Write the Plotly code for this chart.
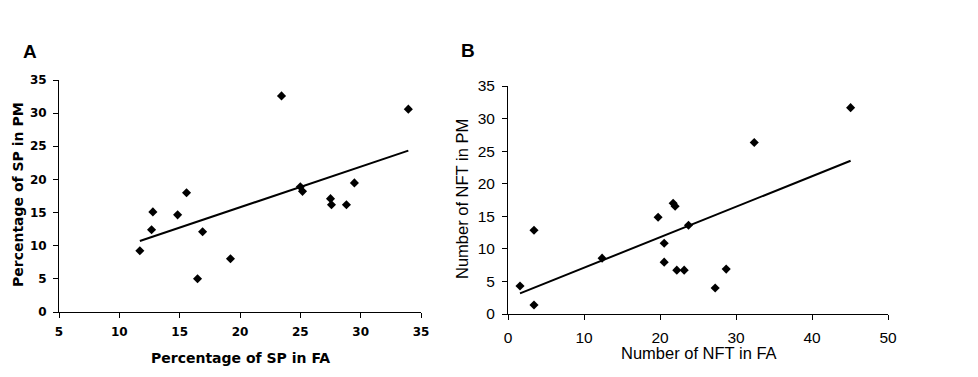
import plotly.graph_objects as go

# Panel A: Percentage of SP
sp_fa = [11.7, 12.67, 12.78, 14.83, 15.57, 16.48, 16.9, 19.21, 23.44, 25.0, 25.18, 27.5, 27.58, 28.82, 29.48, 33.95]
sp_pm = [9.24, 12.4, 15.1, 14.66, 17.98, 5.02, 12.1, 8.03, 32.6, 18.9, 18.2, 17.1, 16.17, 16.17, 19.48, 30.6]
trend_a_x = [11.7, 33.95]
trend_a_y = [10.7, 24.35]

# Panel B: Number of NFT
nft_fa = [1.58, 3.42, 3.42, 12.38, 19.75, 20.55, 20.55, 21.73, 21.99, 22.21, 23.18, 23.75, 27.26, 28.71, 32.4, 45.08]
nft_pm = [4.29, 12.86, 1.38, 8.57, 14.85, 10.87, 7.96, 16.99, 16.53, 6.73, 6.73, 13.62, 3.98, 6.89, 26.33, 31.68]
trend_b_x = [1.58, 45.08]
trend_b_y = [3.16, 23.52]

# The page body has an 8px default margin; figure is sized to fit inside it.
OFF = 8
W, H = 978 - 2 * OFF, 377 - 2 * OFF
FONT_A = "DejaVu Sans, sans-serif"
FONT_B = "Liberation Sans, Arial, sans-serif"

fig = go.Figure()
mk = dict(symbol="diamond", size=7, color="black")
fig.add_trace(go.Scatter(x=sp_fa, y=sp_pm, mode="markers", marker=mk, xaxis="x", yaxis="y", showlegend=False))
fig.add_trace(go.Scatter(x=trend_a_x, y=trend_a_y, mode="lines", line=dict(color="black", width=2), xaxis="x", yaxis="y", showlegend=False))
fig.add_trace(go.Scatter(x=nft_fa, y=nft_pm, mode="markers", marker=mk, xaxis="x2", yaxis="y2", showlegend=False))
fig.add_trace(go.Scatter(x=trend_b_x, y=trend_b_y, mode="lines", line=dict(color="black", width=2), xaxis="x2", yaxis="y2", showlegend=False))

axA = dict(showgrid=False, zeroline=False, showline=True, linecolor="black", linewidth=1,
           ticks="outside", ticklen=5, tickcolor="black", tickwidth=1, automargin=False,
           ticklabelstandoff=4,
           tickfont=dict(family=FONT_A, size=12, color="black", weight="bold"))
axB = dict(showgrid=False, zeroline=False, showline=True, linecolor="black", linewidth=1,
           ticks="outside", ticklen=5, tickcolor="black", tickwidth=1, automargin=False,
           ticklabelstandoff=4,
           tickfont=dict(family=FONT_B, size=15.5, color="black"))

def px(x):
    return (x - OFF) / W

def py(y):
    return 1 - (y - OFF) / H

fig.update_layout(
    width=W, height=H,
    margin=dict(l=0, r=0, t=0, b=0, autoexpand=False),
    paper_bgcolor="white", plot_bgcolor="white",
    xaxis=dict(axA, domain=[px(59), px(421)], range=[5, 35], dtick=5, anchor="y"),
    yaxis=dict(axA, domain=[py(312), py(80)], range=[0, 35], dtick=5, anchor="x"),
    xaxis2=dict(axB, domain=[px(508), px(888)], range=[0, 50], dtick=10, anchor="y2"),
    yaxis2=dict(axB, domain=[py(314), py(86)], range=[0, 35], dtick=5, anchor="x2"),
)

ann = [
    dict(text="<b>A</b>", x=px(30), y=py(52), size=19, fam=FONT_B),
    dict(text="<b>B</b>", x=px(468), y=py(51), size=19, fam=FONT_B),
    dict(text="<b>Percentage of SP in FA</b>", x=px(240), y=py(358), size=14, fam=FONT_A),
    dict(text="<b>Percentage of SP in PM</b>", x=px(18), y=py(195), size=14, fam=FONT_A, angle=-90),
    dict(text="Number of NFT in FA", x=px(699), y=py(353), size=16.5, fam=FONT_B),
    dict(text="Number of NFT in PM", x=px(462), y=py(199), size=16.5, fam=FONT_B, angle=-90),
]
for a in ann:
    fig.add_annotation(text=a["text"], x=a["x"], y=a["y"], xref="paper", yref="paper",
                       xanchor="center", yanchor="middle", showarrow=False,
                       textangle=a.get("angle", 0),
                       font=dict(family=a["fam"], size=a["size"], color="black"))

fig.write_html("out.html")
